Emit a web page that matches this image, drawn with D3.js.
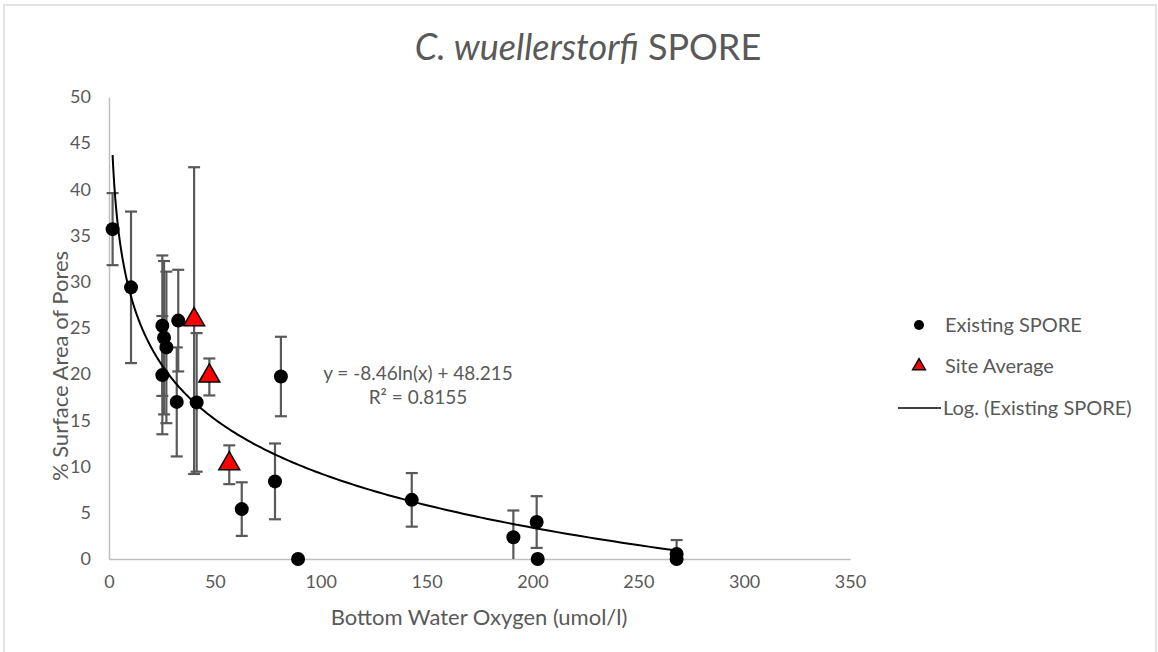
<!DOCTYPE html>
<html>
<head>
<meta charset="utf-8">
<script src="https://cdn.jsdelivr.net/npm/d3@7"></script>
<style>
  body { margin: 0; background: #fff; }
  text { font-family: Lato, "Open Sans", sans-serif; fill: #595959; }
</style>
</head>
<body>
<div id="chart"></div>
<script>
// Existing SPORE values (x = oxygen, y = % pore area, err = +/-)
var existingX   = [1.7, 10.4, 25.2, 26.0, 27.1, 25.2, 32.7, 32.0, 41.4, 62.7, 78.4, 81.2, 89.3, 143.0, 191.0, 202.0, 202.5, 268.1, 268.1];
var existingY   = [35.7, 29.4, 25.25, 23.95, 22.9, 19.9, 25.8, 17.0, 16.95, 5.4, 8.4, 19.75, 0, 6.4, 2.35, 4.0, 0, 0.55, 0];
var existingErr = [3.9, 8.2, 7.6, 8.3, 8.2, 6.4, 5.5, 5.9, 7.5, 2.9, 4.1, 4.3, 0, 2.9, 2.9, 2.8, 0, 1.5, 0];

// Site averages
var siteX   = [40.2, 47.4, 56.8];
var siteY   = [25.8, 19.7, 10.2];
var siteErr = [16.6, 2.0, 2.1];

// log trendline y = a*ln(x) + b
var trendA = -8.46, trendB = 48.215;

var xTicks = [0, 50, 100, 150, 200, 250, 300, 350];
var yTicks = [0, 5, 10, 15, 20, 25, 30, 35, 40, 45, 50];

var width = 1158, height = 652;
var margin = {top: 97, left: 109, right: 308, bottom: 93};

var x = d3.scaleLinear().domain([0, 350]).range([margin.left, width - margin.right]);
var y = d3.scaleLinear().domain([0, 50]).range([height - margin.bottom, margin.top]);

var svg = d3.select("#chart").append("svg")
    .attr("width", width)
    .attr("height", height);

// chart border
svg.append("rect")
    .attr("x", 4).attr("y", 5)
    .attr("width", 1152).attr("height", 660)
    .attr("fill", "none")
    .attr("stroke", "#d9d9d9")
    .attr("stroke-width", 1.5);

// title
var title = svg.append("text")
    .attr("x", 588).attr("y", 60)
    .attr("text-anchor", "middle")
    .style("font-size", "36px");
title.append("tspan").style("font-style", "italic").text("C. wuellerstorfi");
title.append("tspan").text(" SPORE");

// axes
var xAxis = svg.append("g")
    .attr("transform", "translate(0," + y(0) + ")")
    .call(d3.axisBottom(x).tickValues(xTicks).tickSize(0).tickPadding(16));
var yAxis = svg.append("g")
    .attr("transform", "translate(" + x(0) + ",0)")
    .call(d3.axisLeft(y).tickValues(yTicks).tickSize(0).tickPadding(18));

[xAxis, yAxis].forEach(function(g) {
  g.select(".domain").attr("stroke", "#bfbfbf").attr("stroke-width", 1.5);
  g.selectAll("text").style("font-size", "18px").attr("fill", "#595959");
});

svg.append("text")
    .attr("x", 479).attr("y", 625)
    .attr("text-anchor", "middle")
    .style("font-size", "22px")
    .text("Bottom Water Oxygen (umol/l)");

svg.append("text")
    .attr("transform", "translate(68,366) rotate(-90)")
    .attr("text-anchor", "middle")
    .style("font-size", "22px")
    .text("% Surface Area of Pores");

// error bars
function errorBars(xs, ys, es) {
  var g = svg.append("g").attr("stroke", "#595959").attr("stroke-width", 2.2);
  xs.forEach(function(xv, i) {
    if (!es[i]) return;
    var top = Math.min(ys[i] + es[i], 50), bot = Math.max(ys[i] - es[i], 0);
    var cx = x(xv);
    g.append("line").attr("x1", cx).attr("x2", cx).attr("y1", y(top)).attr("y2", y(bot));
    g.append("line").attr("x1", cx - 6).attr("x2", cx + 6).attr("y1", y(top)).attr("y2", y(top));
    if (ys[i] - es[i] >= 0)
      g.append("line").attr("x1", cx - 6).attr("x2", cx + 6).attr("y1", y(bot)).attr("y2", y(bot));
  });
}
errorBars(existingX, existingY, existingErr);
errorBars(siteX, siteY, siteErr);

// trendline
var xMin = d3.min(existingX), xMax = d3.max(existingX);
var trendPts = d3.range(0, 301).map(function(i) {
  var xv = xMin * Math.pow(xMax / xMin, i / 300);
  return [xv, trendA * Math.log(xv) + trendB];
});
svg.append("path")
    .datum(trendPts)
    .attr("fill", "none")
    .attr("stroke", "#000")
    .attr("stroke-width", 2)
    .attr("d", d3.line().x(function(d) { return x(d[0]); }).y(function(d) { return y(d[1]); }));

// points
svg.append("g").selectAll("circle")
    .data(existingX)
  .enter().append("circle")
    .attr("cx", function(d) { return x(d); })
    .attr("cy", function(d, i) { return y(existingY[i]); })
    .attr("r", 7)
    .attr("fill", "#000");

var tri = d3.symbol().type(d3.symbolTriangle).size(190);
svg.append("g").selectAll("path")
    .data(siteX)
  .enter().append("path")
    .attr("d", tri)
    .attr("transform", function(d, i) { return "translate(" + x(d) + "," + (y(siteY[i]) - 1) + ")"; })
    .attr("fill", "#ff0000")
    .attr("stroke", "#000")
    .attr("stroke-width", 1.5);

// equation label
svg.append("text")
    .attr("x", 418).attr("y", 380)
    .attr("text-anchor", "middle")
    .style("font-size", "19px")
    .text("y = -8.46ln(x) + 48.215");
svg.append("text")
    .attr("x", 418).attr("y", 404)
    .attr("text-anchor", "middle")
    .style("font-size", "19px")
    .text("R\u00b2 = 0.8155");

// legend
var legend = svg.append("g");
legend.append("circle").attr("cx", 919).attr("cy", 325).attr("r", 5).attr("fill", "#000");
legend.append("text").attr("x", 945).attr("y", 332).style("font-size", "20px").text("Existing SPORE");
legend.append("path").attr("d", d3.symbol().type(d3.symbolTriangle).size(70))
    .attr("transform", "translate(919,366)")
    .attr("fill", "#ff0000").attr("stroke", "#000").attr("stroke-width", 1.5);
legend.append("text").attr("x", 945).attr("y", 373).style("font-size", "20px").text("Site Average");
legend.append("line").attr("x1", 898).attr("x2", 941).attr("y1", 408).attr("y2", 408)
    .attr("stroke", "#000").attr("stroke-width", 1.5);
legend.append("text").attr("x", 943).attr("y", 415).style("font-size", "20px").text("Log. (Existing SPORE)");
</script>
</body>
</html>
